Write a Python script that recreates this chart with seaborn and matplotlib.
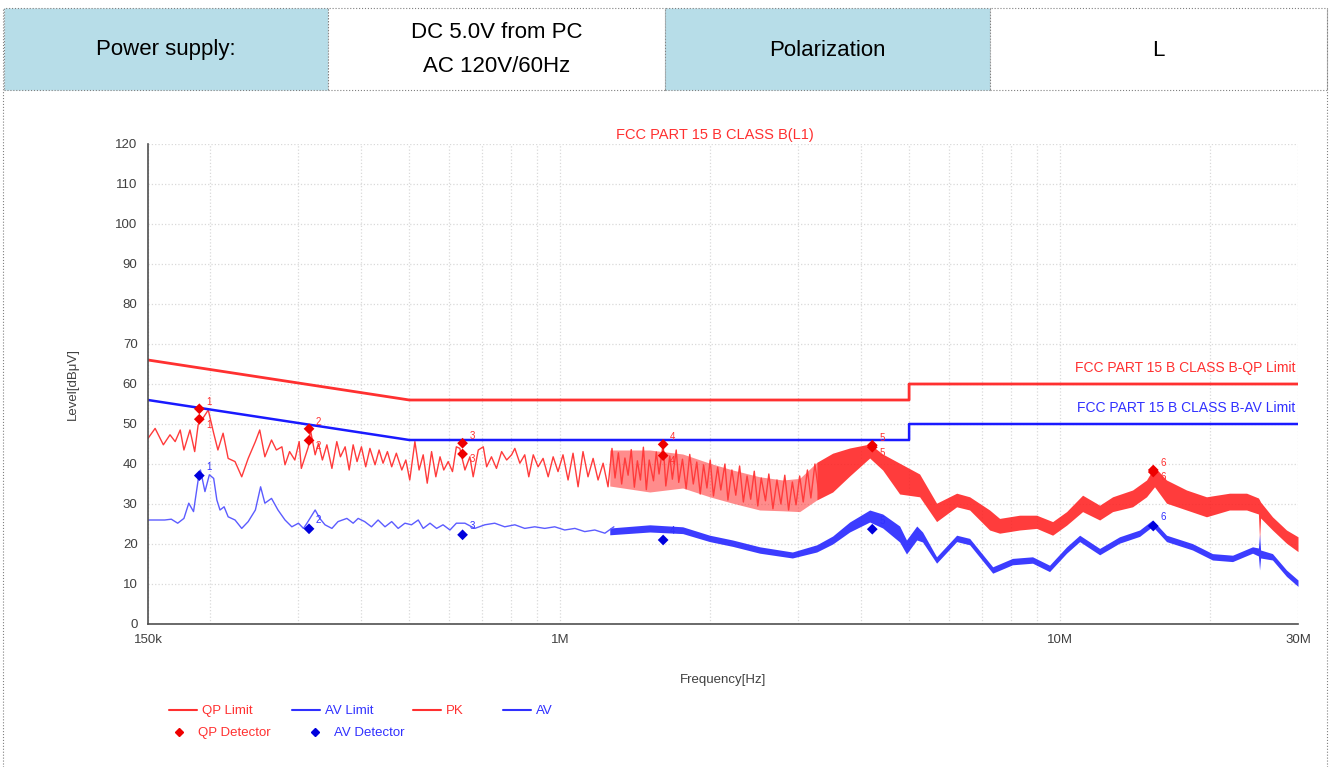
import numpy as np
import matplotlib
matplotlib.use("Agg")
import matplotlib.pyplot as plt
from matplotlib.patches import Rectangle
from matplotlib.lines import Line2D
import seaborn as sns

# limits (MHz, dBuV)
qp_limit_f = [0.15, 0.5, 0.5, 5.0, 5.0, 30.0]
qp_limit_db = [66, 56, 56, 56, 60, 60]
av_limit_f = [0.15, 0.5, 0.5, 5.0, 5.0, 30.0]
av_limit_db = [56, 46, 46, 46, 50, 50]

# PK trace, sparse part read point by point
pk_f = [0.150, 0.155, 0.161, 0.166, 0.170, 0.174, 0.177, 0.182, 0.186, 0.189,
        0.194, 0.198, 0.203, 0.207, 0.212, 0.217, 0.224, 0.231, 0.238, 0.246,
        0.251, 0.257, 0.265, 0.271, 0.278, 0.282, 0.288, 0.295, 0.301, 0.304,
        0.314, 0.317, 0.324, 0.329, 0.335, 0.342, 0.350, 0.358, 0.364, 0.372,
        0.379, 0.386, 0.393, 0.401, 0.409, 0.417, 0.427, 0.435, 0.443, 0.452,
        0.461, 0.471, 0.483, 0.492, 0.501, 0.513, 0.523, 0.533, 0.543, 0.554,
        0.565, 0.576, 0.586, 0.598, 0.610, 0.621, 0.631, 0.646, 0.661, 0.671,
        0.687, 0.703, 0.714, 0.730, 0.747, 0.765, 0.783, 0.801, 0.813, 0.832,
        0.851, 0.867, 0.885, 0.905, 0.926, 0.948, 0.970, 0.992, 1.015, 1.039,
        1.063, 1.088, 1.113, 1.139, 1.166, 1.193, 1.221, 1.249, 1.272,
        1.29, 1.31, 1.33, 1.35, 1.37, 1.39, 1.41, 1.43, 1.45, 1.47,
        1.49, 1.51, 1.54, 1.56, 1.58, 1.61, 1.63, 1.66, 1.68, 1.71,
        1.73, 1.76, 1.79, 1.82, 1.85, 1.88, 1.91, 1.94, 1.97, 2.00,
        2.03, 2.07, 2.10, 2.14, 2.17, 2.21, 2.25, 2.29, 2.33, 2.37,
        2.41, 2.45, 2.49, 2.53, 2.58, 2.62, 2.67, 2.72, 2.77, 2.82,
        2.87, 2.92, 2.97, 3.02, 3.07, 3.13, 3.18, 3.24, 3.30]
pk_db = [46.4, 48.9, 44.8, 47.3, 45.6, 48.5, 43.5, 48.5, 43.1, 49.8,
         51.8, 53.5, 47.7, 43.5, 47.7, 41.4, 40.6, 36.8, 41.4, 45.6,
         48.5, 41.8, 46.0, 43.5, 44.3, 39.8, 43.1, 41.0, 45.6, 38.9,
         44.3, 48.5, 42.3, 45.2, 41.0, 44.8, 38.9, 45.6, 41.8, 44.3,
         38.5, 44.8, 40.6, 44.3, 39.3, 43.9, 39.8, 43.5, 40.2, 43.1,
         39.3, 42.7, 38.5, 41.0, 36.0, 45.6, 38.5, 42.3, 35.2, 43.1,
         36.8, 41.8, 38.5, 40.6, 38.1, 44.3, 43.9, 38.5, 41.8, 36.8,
         43.5, 44.3, 39.3, 41.8, 38.9, 43.1, 41.0, 42.3, 43.9, 40.2,
         42.3, 36.8, 42.3, 39.3, 41.4, 36.8, 41.8, 38.1, 42.3, 36.0,
         42.7, 34.3, 43.1, 36.8, 41.4, 36.0, 40.2, 34.3, 43.9,
         36.5, 42.8, 35.0, 41.5, 37.2, 43.6, 34.2, 40.8, 36.0, 44.2,
         33.6, 41.0, 35.8, 43.0, 37.5, 45.0, 34.5, 42.0, 36.2, 43.5,
         35.4, 41.2, 33.8, 42.4, 35.0, 40.5, 32.5, 39.8, 34.0, 41.0,
         32.0, 39.2, 33.5, 40.0, 31.0, 38.5, 32.2, 39.5, 30.5, 37.0,
         31.2, 38.2, 29.5, 36.5, 30.8, 37.5, 28.8, 36.0, 30.0, 37.2,
         28.5, 35.5, 29.8, 37.0, 30.5, 38.5, 31.5, 40.0, 32.5]

# PK dense part, upper and lower edge of the band
pk_band_f = [1.259, 1.514, 1.762, 1.995, 2.218, 2.512, 2.793, 3.020, 3.267, 3.516,
             3.802, 4.170, 4.427, 4.787, 5.248, 5.675, 6.225, 6.609, 7.246, 7.587,
             8.318, 8.997, 9.686, 10.33, 11.12, 12.03, 12.77, 14.00, 14.93, 15.49,
             16.37, 17.95, 19.68, 21.88, 23.67, 25.00, 25.13, 25.25, 26.67, 28.45, 30.0]
pk_band_hi = [43.5, 43.5, 42.5, 40.2, 38.5, 36.8, 36.0, 36.4, 40.4, 42.7,
              44.0, 45.0, 42.5, 40.2, 37.5, 30.2, 32.7, 31.8, 28.5, 26.4,
              27.2, 27.2, 25.6, 28.1, 32.2, 29.7, 31.8, 33.5, 36.0, 39.3,
              36.0, 33.5, 31.8, 32.7, 32.7, 31.5, 31.0, 30.5, 26.8, 23.5, 21.8]
pk_band_lo = [34.5, 33.0, 34.0, 31.8, 30.2, 28.5, 28.3, 28.1, 31.0, 33.0,
              37.0, 41.5, 38.5, 32.5, 31.8, 25.6, 29.3, 28.5, 23.5, 22.7,
              23.5, 23.9, 22.2, 24.7, 28.1, 26.0, 28.1, 29.3, 31.8, 34.3,
              30.2, 28.5, 26.8, 28.5, 28.5, 27.5, 21.0, 26.5, 23.5, 20.2, 18.1]

# AV trace, sparse part
av_f = [0.150, 0.162, 0.167, 0.172, 0.177, 0.181, 0.185, 0.189, 0.191, 0.195,
        0.199, 0.203, 0.206, 0.209, 0.213, 0.217, 0.224, 0.231, 0.238, 0.246,
        0.252, 0.257, 0.265, 0.273, 0.282, 0.291, 0.300, 0.307, 0.312, 0.324,
        0.331, 0.339, 0.350, 0.360, 0.375, 0.386, 0.395, 0.407, 0.420, 0.433,
        0.447, 0.461, 0.475, 0.490, 0.505, 0.521, 0.533, 0.550, 0.567, 0.584,
        0.603, 0.621, 0.646, 0.676, 0.708, 0.741, 0.776, 0.813, 0.851, 0.891,
        0.933, 0.977, 1.023, 1.072, 1.122, 1.175, 1.231, 1.283]
av_db = [26.0, 26.0, 26.2, 25.2, 26.4, 30.2, 28.1, 36.0, 38.5, 33.1,
         37.3, 36.4, 31.0, 28.5, 29.3, 26.8, 26.0, 23.9, 25.6, 28.5,
         34.3, 30.2, 31.4, 28.5, 26.0, 24.3, 25.2, 23.9, 25.2, 28.5,
         26.4, 24.8, 23.9, 25.6, 26.4, 25.2, 26.4, 25.6, 24.3, 26.0,
         24.3, 25.6, 23.9, 25.2, 24.8, 26.0, 23.9, 25.2, 23.9, 24.8,
         23.5, 25.2, 25.2, 23.9, 24.8, 25.2, 24.3, 24.8, 23.9, 24.3,
         23.9, 24.3, 23.5, 23.9, 23.1, 23.5, 22.7, 24.3]

# AV dense part
av_band_f = [1.259, 1.514, 1.762, 1.995, 2.218, 2.512, 2.920, 3.267, 3.516, 3.802,
             4.170, 4.427, 4.787, 4.940, 5.180, 5.320, 5.675, 6.225, 6.609, 7.350,
             8.050, 8.830, 9.550, 10.33, 10.97, 12.03, 13.18, 14.46, 15.35, 16.37,
             18.45, 20.23, 22.19, 24.33, 25.00, 25.13, 25.25, 26.67, 28.45, 30.0]
av_band_hi = [24.0, 24.8, 24.3, 22.2, 21.0, 19.3, 18.0, 19.8, 22.0, 25.5,
              28.5, 27.5, 24.5, 21.0, 24.5, 23.0, 16.8, 22.2, 21.4, 14.3,
              16.4, 16.8, 14.7, 19.3, 22.2, 18.9, 21.8, 23.5, 26.0, 22.2,
              20.1, 17.6, 17.2, 19.3, 19.0, 22.5, 18.5, 17.6, 13.5, 11.0]
av_band_lo = [22.3, 23.0, 22.6, 20.6, 19.4, 17.7, 16.5, 18.0, 20.0, 23.0,
              25.5, 24.0, 20.5, 17.5, 21.0, 20.5, 15.2, 20.6, 19.8, 12.7,
              14.8, 15.2, 13.1, 17.7, 20.6, 17.3, 20.2, 21.9, 24.4, 20.6,
              18.5, 16.0, 15.6, 17.7, 17.0, 13.5, 16.5, 16.0, 11.9, 9.4]

# detector readings
mark_no = ["1", "2", "3", "4", "5", "6"]
mark_f = [0.190, 0.315, 0.639, 1.61, 4.22, 15.4]
qp_det_a = [53.8, 48.8, 45.2, 44.9, 44.7, 38.5]
qp_det_b = [51.2, 45.9, 42.5, 42.1, 44.2, 38.0]
av_det = [37.1, 23.8, 22.3, 21.0, 23.7, 24.5]

x_major = [0.15, 1, 10, 30]
x_major_lbl = ["150k", "1M", "10M", "30M"]

RED = "#ff1a1a"
BLUE = "#1a1aff"
GRID = "#d9d9d9"
TXT = "#404040"

sns.set_theme(style="white")
plt.rcParams["font.family"] = ["Liberation Sans", "DejaVu Sans"]

fig = plt.figure(figsize=(13.3, 7.67), dpi=100)

# header table
W, H = 1330, 767
cells = [(4, 328, "#b7dde8", ["Power supply:"]),
         (328, 665, "white", ["DC 5.0V from PC", "AC 120V/60Hz"]),
         (665, 990, "#b7dde8", ["Polarization"]),
         (990, 1327, "white", ["L"])]
top, bot = 8, 90
for x0, x1, col, lines in cells:
    fig.patches.append(Rectangle((x0 / W, 1 - bot / H), (x1 - x0) / W, (bot - top) / H,
                                 transform=fig.transFigure, facecolor=col,
                                 edgecolor="#808080", lw=0.8, ls=":"))
    cx = (x0 + x1) / 2 / W
    if len(lines) == 1:
        fig.text(cx, 1 - 50 / H, lines[0], ha="center", va="center", fontsize=16, color="black")
    else:
        for yy, t in zip([32, 66], lines):
            fig.text(cx, 1 - yy / H, t, ha="center", va="center", fontsize=16, color="black")
# outer dotted frame
for xx in [3, 1327]:
    fig.add_artist(Line2D([xx / W, xx / W], [0, 1 - top / H], transform=fig.transFigure,
                          color="#808080", lw=0.8, ls=":"))

ax = fig.add_axes([148 / W, 1 - 624 / H, 1150 / W, 480 / H])
ax.set_xscale("log")

# traces
ax.fill_between(pk_band_f[:9], pk_band_lo[:9], pk_band_hi[:9], color=RED, alpha=0.5, lw=0)
ax.fill_between(pk_band_f[8:], pk_band_lo[8:], pk_band_hi[8:], color=RED, alpha=0.85, lw=0)
sns.lineplot(x=pk_f, y=pk_db, ax=ax, color="#ff3b3b", lw=1.0, estimator=None, sort=False)
ax.fill_between(av_band_f, av_band_lo, av_band_hi, color=BLUE, alpha=0.85, lw=0)
sns.lineplot(x=av_f, y=av_db, ax=ax, color="#5c5cff", lw=1.0, estimator=None, sort=False)

# limits
sns.lineplot(x=qp_limit_f, y=qp_limit_db, ax=ax, color="#ff3030", lw=2.0, estimator=None, sort=False)
sns.lineplot(x=av_limit_f, y=av_limit_db, ax=ax, color=BLUE, lw=1.8, estimator=None, sort=False)

# detector markers
sns.scatterplot(x=mark_f, y=qp_det_a, ax=ax, marker="D", color="#ee0000", s=30, edgecolor="none", zorder=5)
sns.scatterplot(x=mark_f, y=qp_det_b, ax=ax, marker="D", color="#ee0000", s=30, edgecolor="none", zorder=5)
sns.scatterplot(x=mark_f, y=av_det, ax=ax, marker="D", color="#0000dd", s=30, edgecolor="none", zorder=5)
for n, f, a, b, v in zip(mark_no, mark_f, qp_det_a, qp_det_b, av_det):
    ax.annotate(n, (f, a), xytext=(5, 3), textcoords="offset points", color="#ff3030", fontsize=7)
    ax.annotate(n, (f, b), xytext=(5, -6), textcoords="offset points", color="#ff3030", fontsize=7)
    ax.annotate(n, (f, v), xytext=(5, 4), textcoords="offset points", color="#3030ff", fontsize=7)

ax.text(2.04, 122.2, "FCC PART 15 B CLASS B(L1)", color="#ff3030", fontsize=10.5, ha="center", va="center")
ax.text(29.6, 64, "FCC PART 15 B CLASS B-QP Limit", color="#ff3030", fontsize=10, ha="right", va="center")
ax.text(29.6, 54, "FCC PART 15 B CLASS B-AV Limit", color="#3030ff", fontsize=10, ha="right", va="center")

ax.set_xlim(0.15, 30)
ax.set_ylim(0, 120)
ax.set_yticks(range(0, 121, 10))
ax.set_xticks(x_major)
ax.set_xticklabels(x_major_lbl)
ax.set_xticks([0.2, 0.3, 0.4, 0.5, 0.6, 0.7, 0.8, 0.9, 2, 3, 4, 5, 6, 7, 8, 9, 20], minor=True)
ax.xaxis.set_minor_formatter(plt.NullFormatter())
ax.tick_params(axis="both", which="both", direction="inout", colors="#404040",
               labelcolor=TXT, labelsize=9.5, length=8, width=1)
ax.grid(True, which="both", color=GRID, ls=":", lw=0.9)
for s in ["top", "right"]:
    ax.spines[s].set_visible(False)
for s in ["left", "bottom"]:
    ax.spines[s].set_color("#505050")
    ax.spines[s].set_linewidth(1.2)

ax.set_xlabel("Frequency[Hz]", fontsize=9.5, color=TXT, labelpad=20)
ax.set_ylabel("Level[dB\u03bcV]", fontsize=9.5, color=TXT, labelpad=26)

# legend
h1 = [Line2D([], [], color="#ff3030", lw=1.5), Line2D([], [], color="#3030ff", lw=1.5),
      Line2D([], [], color="#ff3030", lw=1.5), Line2D([], [], color="#3030ff", lw=1.5)]
fig.legend(h1, ["QP Limit", "AV Limit", "PK", "AV"], loc="center left",
           bbox_to_anchor=(157 / W, 1 - 711 / H), ncol=4, frameon=False, fontsize=9.5,
           handlelength=2.1, handletextpad=0.4, columnspacing=3.0,
           labelcolor=["#ff3030", "#3030ff", "#ff3030", "#3030ff"])
h2 = [Line2D([], [], color="#ee0000", marker="D", ls="none", ms=4),
      Line2D([], [], color="#0000dd", marker="D", ls="none", ms=4)]
fig.legend(h2, ["QP Detector", "AV Detector"], loc="center left",
           bbox_to_anchor=(157 / W, 1 - 733 / H), ncol=2, frameon=False, fontsize=9.5,
           handlelength=1.6, handletextpad=0.6, columnspacing=2.6,
           labelcolor=["#ff3030", "#3030ff"])

fig.savefig("out.png", dpi=100)
